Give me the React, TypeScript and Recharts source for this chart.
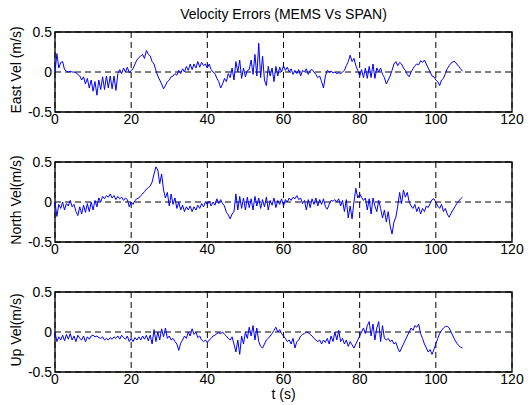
import { LineChart, Line, XAxis, YAxis, CartesianGrid, ReferenceArea } from "recharts";

// sampled every 0.5 s, starting at t = 0
const STEP = 0.5;

const eastVel = [
  0.0, 0.23, 0.05, 0.12, 0.13, 0.03, 0.01, 0.0, 0.01, 0.0, 0.0, -0.01, -0.03, -0.05, -0.1, -0.06, -0.15, -0.08, -0.2, -0.1,
  -0.24, -0.12, -0.29, -0.1, -0.22, -0.06, -0.22, -0.05, -0.2, -0.05, -0.21, -0.05, -0.23, -0.02, 0.03, -0.02, 0.05, 0.0, 0.06, -0.01,
  0.02, 0.04, 0.1, 0.15, 0.18, 0.2, 0.22, 0.17, 0.27, 0.22, 0.2, 0.13, 0.1, 0.02, -0.05, -0.1, -0.15, -0.21, -0.17, -0.12,
  -0.1, -0.06, -0.05, -0.02, -0.04, 0.02, -0.02, 0.04, 0.0, 0.07, 0.02, 0.1, 0.03, 0.1, 0.05, 0.13, 0.06, 0.12, 0.08, 0.1,
  0.05, 0.1, 0.03, 0.0, -0.02, -0.08, -0.12, -0.2, -0.15, -0.08, -0.12, -0.02, -0.07, 0.05, -0.1, 0.13, 0.0, 0.15, -0.08, 0.05,
  -0.06, 0.02, 0.03, 0.15, -0.03, 0.22, -0.05, 0.36, -0.07, 0.2, -0.1, -0.17, 0.07, -0.05, 0.05, -0.12, 0.07, -0.05, 0.06, 0.0,
  0.08, 0.02, 0.06, 0.0, 0.04, -0.03, 0.02, -0.02, 0.03, -0.05, 0.02, 0.0, 0.04, -0.03, 0.02, 0.03, 0.0, -0.03, -0.07, -0.05,
  -0.12, -0.2, -0.05, 0.02, 0.0, 0.01, -0.01, 0.0, -0.02, -0.01, -0.02, 0.0, 0.02, 0.08, 0.13, 0.21, 0.13, 0.17, 0.08, 0.02,
  -0.05, 0.03, -0.07, 0.05, -0.08, 0.07, -0.07, 0.1, -0.08, 0.05, 0.0, 0.05, -0.03, -0.07, -0.15, -0.1, -0.05, 0.02, 0.1, 0.13,
  0.08, 0.12, 0.1, 0.05, 0.02, -0.03, -0.06, 0.0, 0.04, 0.08, 0.1, 0.09, 0.14, 0.12, 0.15, 0.1, 0.05, 0.0, -0.05, -0.06,
  -0.1, -0.12, -0.17, -0.1, -0.08, -0.02, 0.04, 0.08, 0.11, 0.13, 0.13, 0.1, 0.07, 0.04, 0.01,
];

const northVel = [
  0.0, -0.18, -0.03, -0.08, 0.0, -0.1, -0.02, -0.05, 0.02, -0.06, -0.03, -0.12, -0.17, -0.06, -0.15, -0.04, -0.13, -0.02, -0.12, 0.0,
  -0.1, 0.02, -0.06, 0.05, 0.0, 0.07, 0.04, 0.08, 0.06, 0.1, 0.05, 0.08, 0.03, 0.07, 0.04, 0.06, 0.02, 0.05, 0.03, -0.06,
  0.0, -0.03, 0.02, 0.04, 0.05, 0.08, 0.1, 0.13, 0.16, 0.18, 0.2, 0.25, 0.35, 0.44, 0.4, 0.23, 0.35, 0.15, 0.05, 0.12,
  -0.05, 0.1, -0.03, 0.05, -0.08, 0.0, -0.1, -0.04, -0.12, -0.06, -0.1, -0.05, -0.12, -0.06, -0.1, -0.04, -0.08, -0.02, -0.06, 0.0,
  -0.03, 0.01, -0.05, 0.0, -0.04, 0.04, -0.02, 0.03, -0.02, -0.05, -0.13, -0.16, -0.21, -0.15, -0.12, 0.1, -0.1, 0.07, -0.08, 0.05,
  -0.1, 0.06, -0.07, 0.04, -0.1, 0.07, -0.05, 0.05, -0.08, 0.03, -0.06, 0.06, -0.1, 0.02, -0.04, 0.05, -0.07, 0.02, -0.03, 0.04,
  -0.05, 0.03, 0.0, 0.05, 0.02, 0.06, 0.04, 0.08, 0.03, 0.05, -0.02, 0.02, -0.1, 0.03, -0.07, 0.04, -0.03, 0.05, -0.05, 0.03,
  -0.03, 0.04, -0.06, -0.09, -0.03, 0.02, 0.01, 0.03, 0.0, 0.04, -0.05, 0.02, -0.12, 0.03, -0.2, -0.05, -0.21, 0.0, 0.17, 0.05,
  0.1, 0.06, 0.02, 0.05, -0.1, 0.04, -0.15, 0.05, -0.05, -0.12, 0.02, -0.08, -0.2, -0.1, -0.25, -0.12, -0.3, -0.4, -0.25, -0.19,
  -0.05, 0.12, -0.02, 0.15, 0.06, 0.12, 0.0, -0.05, -0.08, -0.03, -0.12, -0.06, -0.15, -0.08, -0.12, -0.05, -0.07, -0.02, 0.03, 0.04,
  0.0, -0.05, -0.08, -0.03, -0.12, -0.08, -0.15, -0.19, -0.14, -0.1, -0.06, -0.02, 0.01, 0.04, 0.06,
];

const upVel = [
  0.0, -0.12, -0.06, -0.1, -0.04, -0.11, -0.03, -0.09, -0.02, -0.1, -0.05, -0.12, -0.04, -0.08, -0.1, -0.05, -0.12, -0.06, -0.09, -0.05,
  -0.04, -0.06, -0.05, -0.07, -0.08, -0.06, -0.1, -0.08, -0.1, -0.07, -0.09, -0.06, -0.08, -0.05, -0.09, -0.04, -0.07, -0.09, -0.05, -0.12,
  -0.08, -0.12, -0.07, -0.1, -0.06, -0.1, -0.05, -0.09, -0.04, -0.11, -0.04, -0.15, 0.03, -0.12, 0.0, -0.1, 0.04, -0.06, 0.05, -0.08,
  -0.05, -0.1, -0.08, -0.12, -0.15, -0.23, -0.14, -0.1, -0.05, -0.08, 0.0, -0.05, 0.04, -0.03, 0.0, -0.07, -0.05, -0.1, -0.12, -0.1,
  -0.13, -0.1, -0.08, -0.05, -0.04, -0.02, -0.01, -0.02, 0.0, -0.03, -0.05, -0.08, -0.1, -0.06, -0.15, -0.25, -0.1, -0.28, -0.05, -0.15,
  0.0, -0.08, 0.06, -0.05, 0.08, -0.1, 0.05, -0.12, -0.18, -0.2, -0.15, -0.1, -0.08, -0.05, -0.02, 0.02, 0.06, 0.0, 0.03, -0.02,
  -0.05, -0.08, -0.12, -0.1, -0.15, -0.08, -0.2, -0.12, -0.1, -0.05, -0.03, -0.02, 0.0, -0.01, -0.03, -0.05, -0.08, -0.1, -0.12, -0.1,
  -0.15, -0.1, -0.13, -0.08, -0.15, -0.05, -0.12, 0.0, -0.1, 0.02, -0.12, -0.08, -0.15, -0.1, -0.18, -0.12, -0.16, -0.2, -0.15, -0.1,
  -0.05, 0.0, 0.05, -0.02, 0.08, 0.13, -0.05, 0.1, -0.1, 0.05, 0.13, -0.12, 0.08, -0.08, -0.1, -0.08, -0.12, -0.1, -0.15, -0.13,
  -0.2, -0.25, -0.2, -0.15, -0.1, -0.05, 0.0, 0.05, 0.02, 0.08, 0.06, 0.1, -0.02, -0.08, -0.15, -0.2, -0.25, -0.22, -0.28, -0.22,
  -0.15, -0.08, -0.02, 0.02, 0.05, 0.07, 0.07, 0.05, 0.0, -0.05, -0.1, -0.14, -0.17, -0.19, -0.2,
];

const xTicks = [0, 20, 40, 60, 80, 100, 120];
const yTicks = [-0.5, 0, 0.5];

const FONT = "Arial, 'Liberation Sans', Helvetica, sans-serif";

function Panel({ values, label, top }: { values: number[]; label: string; top: number }) {
  const data = values.map((v, i) => ({ t: i * STEP, v }));
  return (
    <div style={{ position: "absolute", left: 0, top: top - 10 }}>
      <LineChart width={529} height={120} data={data} margin={{ top: 10, right: 17, bottom: 0, left: 0 }}>
        <CartesianGrid stroke="#000" strokeDasharray="6 4" strokeWidth={1} />
        <XAxis
          dataKey="t"
          type="number"
          domain={[0, 120]}
          ticks={xTicks}
          height={30}
          tickSize={0}
          tickMargin={2}
          axisLine={false}
          tick={{ fill: "#000", fontSize: 14, fontFamily: FONT }}
        />
        <YAxis
          type="number"
          domain={[-0.5, 0.5]}
          ticks={yTicks}
          width={55}
          tickSize={0}
          tickMargin={3}
          axisLine={false}
          tick={{ fill: "#000", fontSize: 14, fontFamily: FONT }}
          label={{
            content: (props: any) => {
              const vb = props.viewBox || {};
              const cy = (vb.y ?? 10) + (vb.height ?? 80) / 2 - 2;
              return (
                <text
                  x={21}
                  y={cy}
                  transform={`rotate(-90 21 ${cy})`}
                  textAnchor="middle"
                  fontSize={14}
                  fontFamily={FONT}
                  fill="#000"
                >
                  {label}
                </text>
              );
            },
          }}
        />
        <ReferenceArea x1={0} x2={120} y1={-0.5} y2={0.5} fill="none" stroke="#000" strokeWidth={1.3} ifOverflow="visible" />
        <Line
          dataKey="v"
          stroke="#0000ff"
          strokeWidth={1}
          dot={false}
          isAnimationActive={false}
          type="linear"
        />
      </LineChart>
    </div>
  );
}

export default function App() {
  return (
    <div style={{ position: "absolute", left: 0, top: 0, width: 529, height: 405, background: "#fff", fontFamily: FONT }}>
      <div style={{ position: "absolute", left: 55, width: 457, top: 7, textAlign: "center", fontSize: 14, lineHeight: "14px", color: "#000" }}>
        Velocity Errors (MEMS Vs SPAN)
      </div>
      <Panel values={eastVel} label="East Vel (m/s)" top={32} />
      <Panel values={northVel} label="North Vel(m/s)" top={162} />
      <Panel values={upVel} label="Up Vel(m/s)" top={292} />
      <div style={{ position: "absolute", left: 55, width: 457, top: 387, textAlign: "center", fontSize: 14, lineHeight: "14px", color: "#000" }}>
        t (s)
      </div>
    </div>
  );
}
